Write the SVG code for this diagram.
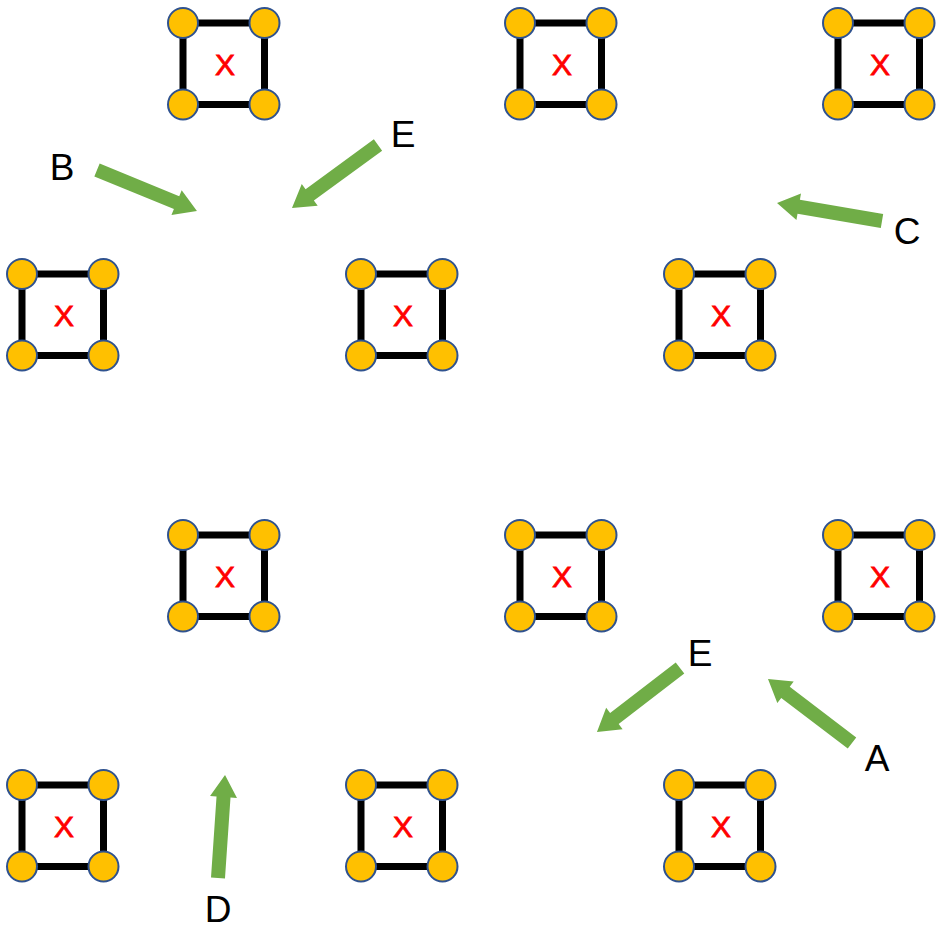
<svg xmlns="http://www.w3.org/2000/svg" xmlns:xlink="http://www.w3.org/1999/xlink" width="949" height="930" viewBox="0 0 949 930">
<style>
.sq{fill:none;stroke:#000;stroke-width:7}
.dot{fill:#FFC000;stroke:#2F528F;stroke-width:2}
.x{font-family:"Liberation Sans",Arial,sans-serif;font-size:30px;fill:#FF0000;stroke:#FF0000;stroke-width:0.8;text-anchor:middle}
.lbl{font-family:"Liberation Sans",Arial,sans-serif;font-size:37px;fill:#000;text-anchor:middle}
.arr{fill:#70AD47}
</style>
<defs>
<g id="unit">
<rect class="sq" x="0" y="0" width="81.5" height="81.5"/>
<circle class="dot" cx="0" cy="0" r="15"/>
<circle class="dot" cx="81.5" cy="0" r="15"/>
<circle class="dot" cx="0" cy="81.5" r="15"/>
<circle class="dot" cx="81.5" cy="81.5" r="15"/>
</g>
</defs>
<g id="n1" transform="translate(183,23)"><use href="#unit"/><text class="x" x="42" y="52">X</text></g>
<g id="n2" transform="translate(520,23)"><use href="#unit"/><text class="x" x="42" y="52">X</text></g>
<g id="n3" transform="translate(838,23)"><use href="#unit"/><text class="x" x="42" y="52">X</text></g>
<g id="n4" transform="translate(22,274)"><use href="#unit"/><text class="x" x="42" y="52">X</text></g>
<g id="n5" transform="translate(361,274)"><use href="#unit"/><text class="x" x="42" y="52">X</text></g>
<g id="n6" transform="translate(679,274)"><use href="#unit"/><text class="x" x="42" y="52">X</text></g>
<g id="n7" transform="translate(183,535)"><use href="#unit"/><text class="x" x="42" y="52">X</text></g>
<g id="n8" transform="translate(520,535)"><use href="#unit"/><text class="x" x="42" y="52">X</text></g>
<g id="n9" transform="translate(838,535)"><use href="#unit"/><text class="x" x="42" y="52">X</text></g>
<g id="n10" transform="translate(22,785)"><use href="#unit"/><text class="x" x="42" y="52">X</text></g>
<g id="n11" transform="translate(361,785)"><use href="#unit"/><text class="x" x="42" y="52">X</text></g>
<g id="n12" transform="translate(679,785)"><use href="#unit"/><text class="x" x="42" y="52">X</text></g>
<g id="connectors">
<polygon class="arr" transform="translate(97,170) rotate(22.3)" points="0,-7 86,-7 86,-13.5 108,0 86,13.5 86,7 0,7"/>
<polygon class="arr" transform="translate(378,145) rotate(143.8)" points="0,-7 84.6,-7 84.6,-13.5 106.6,0 84.6,13.5 84.6,7 0,7"/>
<polygon class="arr" transform="translate(882,221) rotate(-170.3)" points="0,-7 84.5,-7 84.5,-13.5 106.5,0 84.5,13.5 84.5,7 0,7"/>
<polygon class="arr" transform="translate(680,668) rotate(142.4)" points="0,-7 82.8,-7 82.8,-13.5 104.8,0 82.8,13.5 82.8,7 0,7"/>
<polygon class="arr" transform="translate(852,743) rotate(-142.7)" points="0,-7 83.6,-7 83.6,-13.5 105.6,0 83.6,13.5 83.6,7 0,7"/>
<polygon class="arr" transform="translate(218,878) rotate(-86.1)" points="0,-7 81.2,-7 81.2,-13.5 103.2,0 81.2,13.5 81.2,7 0,7"/>
</g>
<g id="labels">
<text class="lbl" x="62" y="180">B</text>
<text class="lbl" x="403" y="147">E</text>
<text class="lbl" x="907" y="244">C</text>
<text class="lbl" x="700" y="666">E</text>
<text class="lbl" x="877" y="771">A</text>
<text class="lbl" x="218" y="922">D</text>
</g>
</svg>
